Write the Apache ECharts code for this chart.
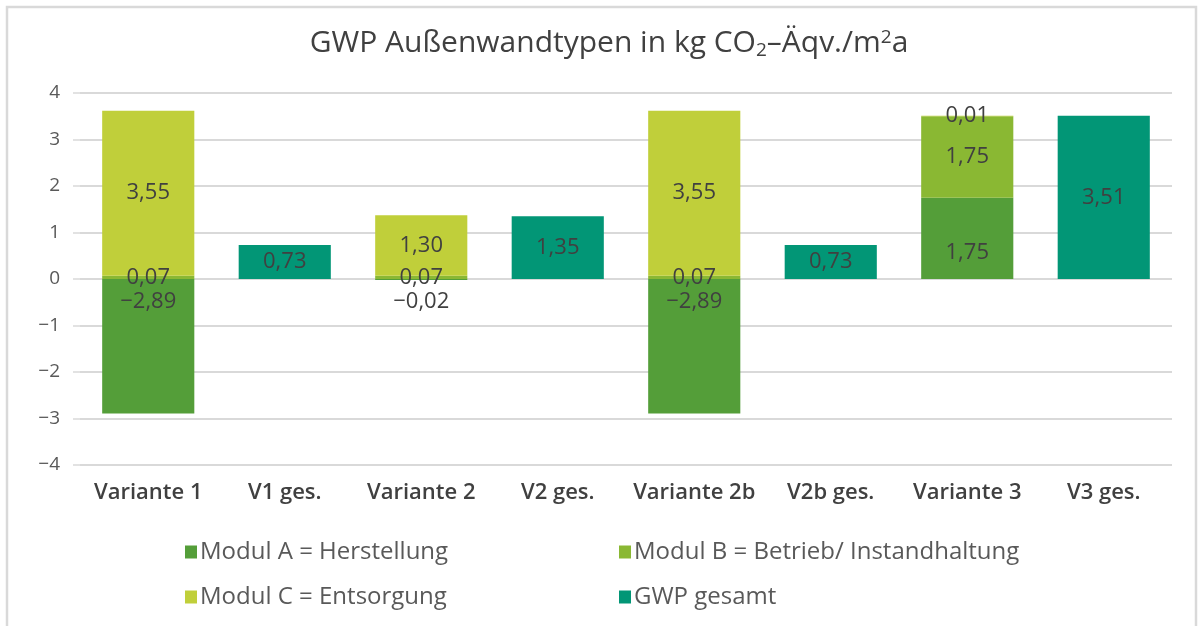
<!DOCTYPE html>
<html>
<head>
<meta charset="utf-8">
<script src="https://cdn.jsdelivr.net/npm/echarts@6/dist/echarts.min.js"></script>
<style>
html,body{margin:0;padding:0;background:#fff;}
#c{width:1198px;height:626px;}
</style>
</head>
<body>
<div id="c"></div>
<script>
var categories = ['Variante 1', 'V1 ges.', 'Variante 2', 'V2 ges.', 'Variante 2b', 'V2b ges.', 'Variante 3', 'V3 ges.'];
var modulA = [-2.89, null, -0.02, null, -2.89, null, 1.75, null];
var modulB = [0.07, null, 0.07, null, 0.07, null, 1.75, null];
var modulC = [3.55, null, 1.30, null, 3.55, null, 0.01, null];
var gwpGesamt = [null, 0.73, null, 1.35, null, 0.73, null, 3.51];
var seriesNames = ['Modul A = Herstellung', 'Modul B = Betrieb/ Instandhaltung', 'Modul C = Entsorgung', 'GWP gesamt'];
var yTicks = {min: -4, max: 4, interval: 1};

var colors = ['#549E39', '#8AB833', '#C0CF3A', '#029676'];
var FONT = '"Open Sans", sans-serif';

function fmt(v) {
  var s = Math.abs(v).toFixed(2).replace('.', ',');
  return (v < 0 ? '\u2212' : '') + s;
}

var labelBase = {
  show: true,
  position: 'inside',
  fontFamily: FONT,
  fontSize: 22,
  lineHeight: 26,
  color: '#404040',
  formatter: function (p) { return p.value == null ? '' : fmt(p.value); }
};

function mkData(arr, special) {
  return arr.map(function (v) {
    if (v == null) return '-';
    if (!special) return v;
    if (v < 0) return {value: v, label: {position: 'insideTop', distance: 10}};
    return {value: v, label: {position: 'insideBottom', distance: 13}};
  });
}

var dataSets = [modulA, modulB, modulC, gwpGesamt];
var series = dataSets.map(function (arr, i) {
  return {
    name: seriesNames[i],
    type: 'bar',
    stack: 'all',
    barWidth: '67.5%',
    itemStyle: {color: colors[i]},
    label: labelBase,
    data: mkData(arr, i === 0),
    z: 2
  };
});

var legendPos = [[180, 535], [614, 535], [180, 580], [614, 580]];
var legends = seriesNames.map(function (n, i) {
  return {
    data: [n],
    left: legendPos[i][0],
    top: legendPos[i][1],
    icon: 'rect',
    itemWidth: 12,
    itemHeight: 13,
    itemGap: 0,
    textStyle: {fontFamily: FONT, fontSize: 24, color: '#595959', padding: [0, 0, 0, -2]},
    selectedMode: false
  };
});

var chart = echarts.init(document.getElementById('c'));
chart.setOption({
  animation: false,
  backgroundColor: '#fff',
  title: {
    text: '{a|GWP Außenwandtypen in kg CO}{s|2}{a|–Äqv./m}{p|2}{a|a}',
    left: 604,
    textAlign: 'center',
    top: 22,
    textStyle: {
      fontWeight: 'normal',
      rich: {
        a: {fontFamily: FONT, fontSize: 30, fontWeight: 'normal', color: '#404040'},
        s: {fontFamily: FONT, fontSize: 19, fontWeight: 'normal', color: '#404040', padding: [14, 0, 0, 0]},
        p: {fontFamily: FONT, fontSize: 19, fontWeight: 'normal', color: '#404040', padding: [0, 0, 11, 0]}
      }
    }
  },
  graphic: [{
    type: 'rect',
    shape: {x: 7, y: 7, width: 1189, height: 640},
    style: {fill: 'none', stroke: '#d9d9d9', lineWidth: 2.5},
    silent: true
  }],
  legend: legends,
  grid: {left: 80, right: 26, top: 93, bottom: 161},
  xAxis: {
    type: 'category',
    data: categories,
    axisLine: {show: false},
    axisTick: {show: false},
    axisLabel: {fontFamily: FONT, fontSize: 22, fontWeight: 600, color: '#404040', margin: 17, interval: 0}
  },
  yAxis: {
    type: 'value',
    min: yTicks.min,
    max: yTicks.max,
    interval: yTicks.interval,
    axisLine: {show: false},
    axisTick: {show: true, length: 7, lineStyle: {color: '#d9d9d9', width: 1.5}},
    axisLabel: {
      fontFamily: FONT, fontSize: 19, color: '#595959', margin: 20,
      formatter: function (v) { return (v < 0 ? '\u2212' : '') + Math.abs(v); }
    },
    splitLine: {lineStyle: {color: '#d9d9d9', width: 2}}
  },
  series: series
});
</script>
</body>
</html>
